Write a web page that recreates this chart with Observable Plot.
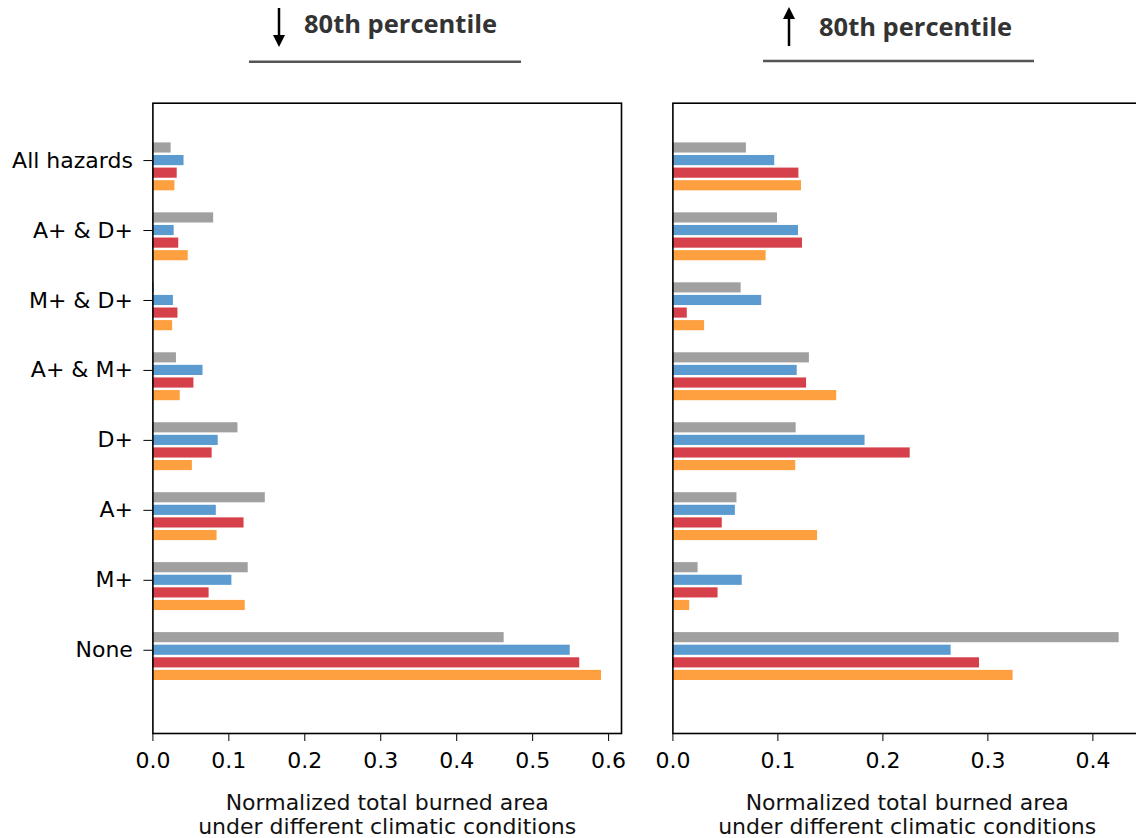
<!DOCTYPE html>
<html><head><meta charset="utf-8">
<script src="https://cdn.jsdelivr.net/npm/d3@7"></script>
<script src="https://cdn.jsdelivr.net/npm/@observablehq/plot@0.6"></script>
<style>
html,body{margin:0;padding:0;background:#fff;overflow:hidden;width:1136px;height:838px;}
#root{position:relative;width:1136px;height:838px;overflow:hidden;}
.panel{position:absolute;top:0;}
#hdr{position:absolute;left:0;top:0;}
</style></head><body><div id="root"></div>
<script>
const categories = ["All hazards","A+ & D+","M+ & D+","A+ & M+","D+","A+","M+","None"];
const seriesNames = ["Series 1","Series 2","Series 3","Series 4"];
const seriesColors = ["#a0a0a0","#5b9bd0","#d6404a","#ffa040"];

// Left panel (below 80th percentile)
const leftGrey   = [0.024, 0.080, 0.002, 0.031, 0.112, 0.148, 0.1255, 0.4625];
const leftBlue   = [0.041, 0.028, 0.027, 0.066, 0.086, 0.0835, 0.104, 0.5495];
const leftRed    = [0.032, 0.034, 0.033, 0.054, 0.078, 0.120, 0.074, 0.562];
const leftOrange = [0.029, 0.0465, 0.026, 0.036, 0.052, 0.0845, 0.1216, 0.5907];

// Right panel (above 80th percentile)
const rightGrey   = [0.070, 0.0996, 0.065, 0.130, 0.1174, 0.061, 0.024, 0.425];
const rightBlue   = [0.097, 0.1196, 0.0846, 0.1184, 0.183, 0.0595, 0.066, 0.265];
const rightRed    = [0.120, 0.1234, 0.0137, 0.1273, 0.226, 0.047, 0.043, 0.292];
const rightOrange = [0.1225, 0.0888, 0.0302, 0.156, 0.117, 0.1378, 0.016, 0.324];

const leftTicks = [0, 0.1, 0.2, 0.3, 0.4, 0.5, 0.6];
const rightTicks = [0, 0.1, 0.2, 0.3, 0.4];
const headerText = "80th percentile";
const axisTitle = "Normalized total burned area\nunder different climatic conditions";

const barStep = 0.18, barH = 0.145;

function panel(values, xmax, ticks, showY) {
  const rows = [];
  values.forEach((arr, k) => arr.forEach((v, i) => rows.push({cat: categories[i], i, k, series: seriesNames[k], v})));
  return Plot.plot({
    width: 640, height: 838,
    marginTop: 102.7, marginBottom: 105, marginLeft: 152.4, marginRight: 19,
    style: {fontFamily: "DejaVu Sans", fontSize: "22px", color: "#000", background: "transparent", overflow: "visible"},
    x: {domain: [0, xmax], ticks, tickFormat: d3.format(".1f"), tickSize: 8, tickPadding: 11, label: null},
    y: {domain: [-0.82, 8.19], reverse: true, ticks: d3.range(categories.length), tickFormat: i => categories[i],
        tickSize: 9, tickPadding: 11, label: null, axis: showY ? "left" : null},
    color: {type: "ordinal", domain: seriesNames, range: seriesColors},
    marks: [
      Plot.rect(rows, {
        x1: d => 0, x2: "v",
        y1: d => d.i + (d.k - 1) * barStep - barH / 2,
        y2: d => d.i + (d.k - 1) * barStep + barH / 2,
        fill: "series"
      }),
      Plot.frame({stroke: "#000", strokeWidth: 1.6}),
      Plot.text([axisTitle], {frameAnchor: "bottom", lineAnchor: "top", dy: 59, lineHeight: 1.09, text: d => d, fontSize: 22, fill: "#111"})
    ]
  });
}

const root = document.getElementById("root");
const left = panel([leftGrey, leftBlue, leftRed, leftOrange], 0.617, leftTicks, true);
left.classList.add("panel"); left.style.left = "0px";
const right = panel([rightGrey, rightBlue, rightRed, rightOrange], 0.4463, rightTicks, false);
right.classList.add("panel"); right.style.left = "520px";
root.appendChild(left);
root.appendChild(right);

// Header overlay
const hdr = d3.select(root).append("svg").attr("id", "hdr").attr("width", 1136).attr("height", 80);
const headers = [
  {dir: "down", ax: 279, tx: 304, ty: 33, lx1: 249, lx2: 521, ly: 61.7},
  {dir: "up", ax: 789, tx: 819, ty: 36, lx1: 763, lx2: 1034, ly: 61}
];
headers.forEach(h => {
  const g = hdr.append("g");
  if (h.dir === "down") {
    g.append("line").attr("x1", h.ax).attr("x2", h.ax).attr("y1", 8).attr("y2", 37).attr("stroke", "#000").attr("stroke-width", 2.5);
    g.append("path").attr("d", `M${h.ax - 6},35 L${h.ax + 6},35 L${h.ax},47 Z`).attr("fill", "#000");
  } else {
    g.append("line").attr("x1", h.ax).attr("x2", h.ax).attr("y1", 17).attr("y2", 46).attr("stroke", "#000").attr("stroke-width", 2.5);
    g.append("path").attr("d", `M${h.ax - 6},19 L${h.ax + 6},19 L${h.ax},7 Z`).attr("fill", "#000");
  }
  g.append("text").attr("x", h.tx).attr("y", h.ty).text(headerText)
    .attr("font-family", "Open Sans").attr("font-weight", 700).attr("font-size", 25.5).attr("fill", "#333");
  g.append("line").attr("x1", h.lx1).attr("x2", h.lx2).attr("y1", h.ly).attr("y2", h.ly).attr("stroke", "#555").attr("stroke-width", 2.5);
});
</script></body></html>
